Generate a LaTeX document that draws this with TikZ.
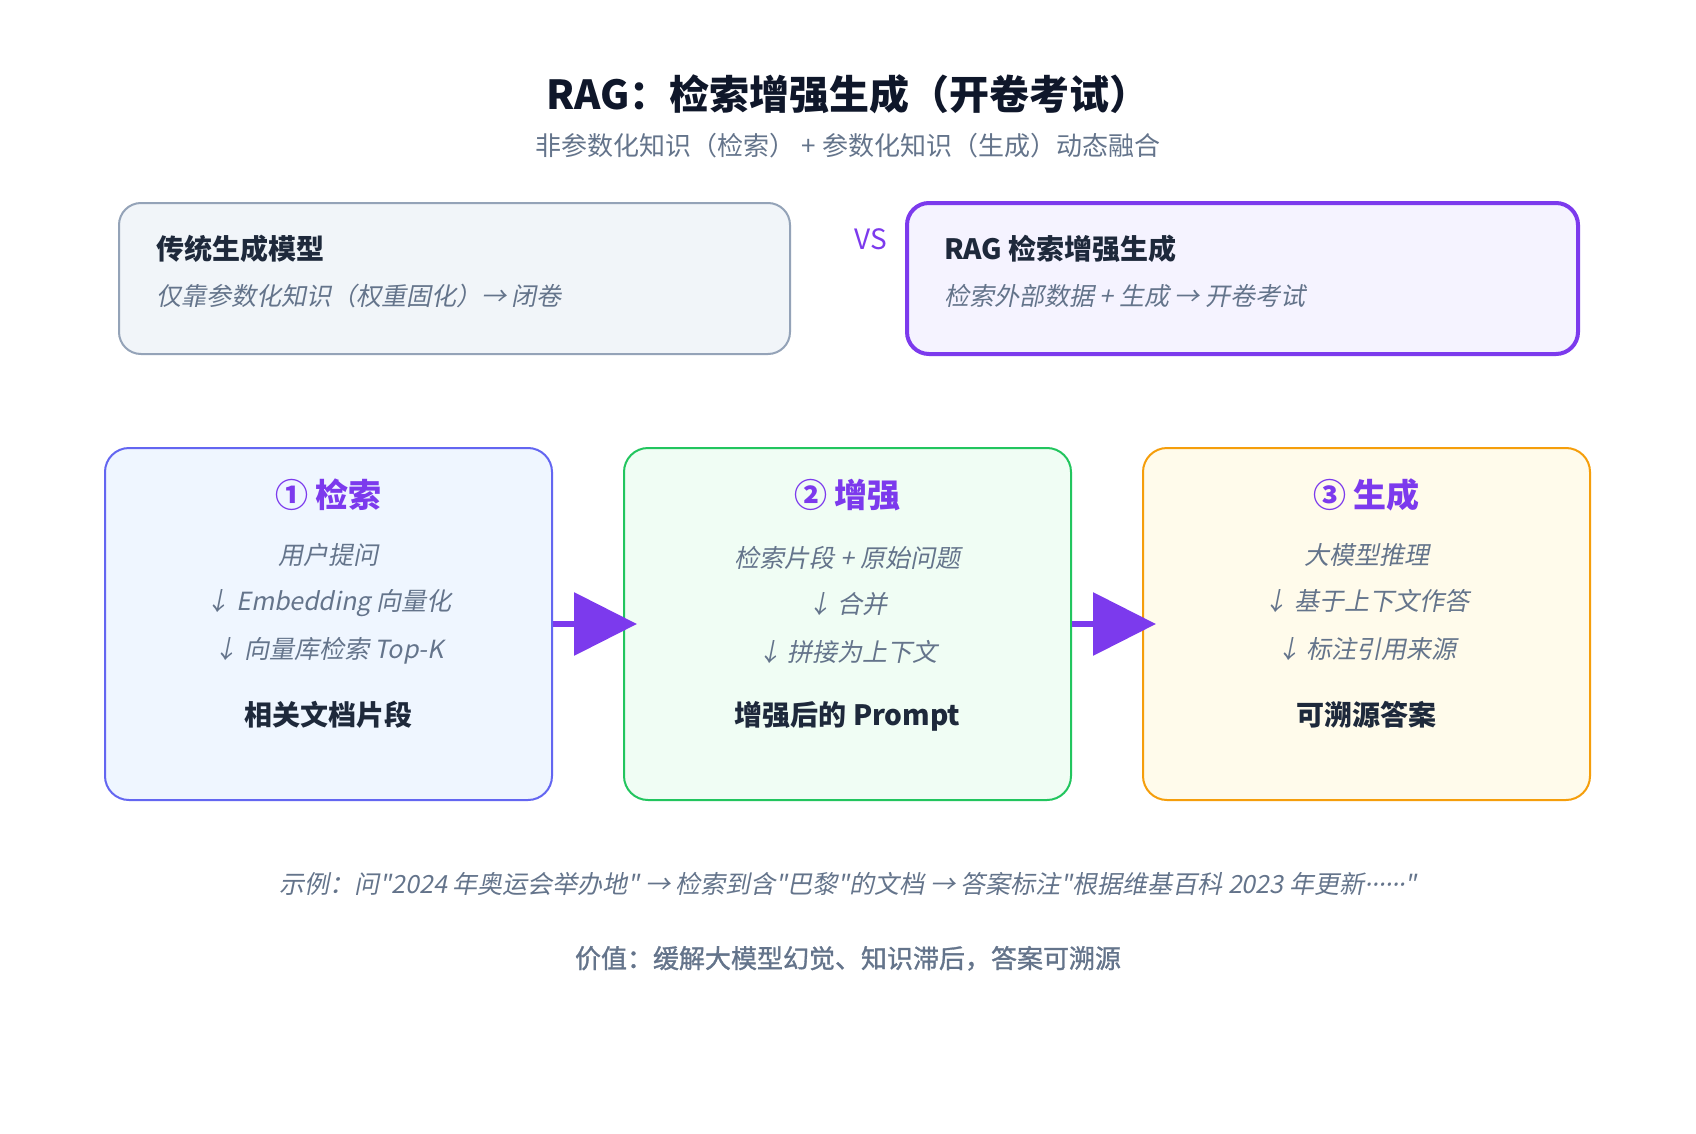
\documentclass[tikz,border=0pt]{standalone}
\usepackage{fontspec}
\setmainfont{Noto Sans CJK SC}[AutoFakeSlant=0.2]
\newfontfamily\plainfont{Noto Sans CJK SC}[AutoFakeSlant=0.2]
\newfontfamily\dotfont{Noto Sans}[AutoFakeSlant=0.2]
\newfontfamily\midfont{Noto Sans CJK SC}[FakeBold=1.2]
\usepackage{xcolor}
\usetikzlibrary{arrows.meta,positioning}
\definecolor{ink}{HTML}{0F172A}
\definecolor{dark}{HTML}{1E293B}
\definecolor{muted}{HTML}{64748B}
\definecolor{violet}{HTML}{7C3AED}
\definecolor{slateline}{HTML}{94A3B8}
\definecolor{slatefill}{HTML}{F1F5F9}
\definecolor{ragfill}{HTML}{F5F3FF}
\definecolor{retline}{HTML}{6366F1}
\definecolor{retfill}{HTML}{EFF6FF}
\definecolor{augline}{HTML}{22C55E}
\definecolor{augfill}{HTML}{F0FDF4}
\definecolor{genline}{HTML}{F59E0B}
\definecolor{genfill}{HTML}{FFFBEB}

\begin{document}
\begin{tikzpicture}[x=1pt, y=-1pt,
    panel/.style={draw, rounded corners=22pt, minimum width=671pt,
                  minimum height=151pt, line width=2pt},
    stagebox/.style={draw, rounded corners=24pt, minimum width=447pt,
                     minimum height=352pt, line width=2pt},
    headtxt/.style={inner sep=0pt, text=dark, font=\fontsize{28}{34}\selectfont\bfseries},
    notetxt/.style={inner sep=0pt, text=muted, font=\fontsize{25}{30}\selectfont\itshape},
    stagetitle/.style={inner sep=0pt, anchor=base, text=violet,
                       font=\fontsize{33}{40}\selectfont\bfseries},
    flow/.style={-{Triangle[length=63pt, width=62pt]}, line width=6.5pt, violet},
    node distance=70pt
  ]
    \useasboundingbox[fill=white] (0,0) rectangle (1696,1134);

    % title
    \node[inner sep=0pt, anchor=base, text=ink, font=\fontsize{40}{48}\selectfont\bfseries]
      (title) at (848,110) {RAG：检索增强生成（开卷考试）};
    \node[inner sep=0pt, anchor=base, text=muted, font=\fontsize{26}{32}\selectfont]
      (sub) at (848,156) {非参数化知识（检索） + 参数化知识（生成）动态融合};

    % comparison
    \node[panel, draw=slateline, fill=slatefill] (trad) at (454.5,278.5) {};
    \node[panel, right=114pt of trad, draw=violet, line width=4pt, fill=ragfill] (rag) {};
    \node[text=violet, inner sep=0pt, font=\fontsize{28}{34}\selectfont] (vs) at (871,239) {VS};
    \node[headtxt, anchor=base west] (tradh) at ([xshift=38pt, yshift=-57pt]trad.north west) {传统生成模型};
    \node[notetxt, anchor=base west] (tradn) at ([xshift=38pt, yshift=-103pt]trad.north west)
      {仅靠参数化知识（权重固化）→ 闭卷};
    \node[headtxt, anchor=base west] (ragh) at ([xshift=39pt, yshift=-58pt]rag.north west) {RAG 检索增强生成};
    \node[notetxt, anchor=base west] (ragn) at ([xshift=39pt, yshift=-104pt]rag.north west)
      {检索外部数据 + 生成 → 开卷考试};

    % pipeline
    \node[stagebox, draw=retline, fill=retfill] (ret) at (328.5,624) {};
    \node[stagebox, right=of ret, draw=augline, fill=augfill] (aug) {};
    \node[stagebox, right=of aug, draw=genline, fill=genfill] (gen) {};

    \node[stagetitle] (reth) at ([yshift=-60pt]ret.north) {① 检索};
    \node[notetxt, anchor=base] (ret1) at ([yshift=-117pt]ret.north) {用户提问};
    \node[notetxt, anchor=base] (ret2) at ([yshift=-163pt]ret.north) {↓ Embedding 向量化};
    \node[notetxt, anchor=base] (ret3) at ([yshift=-211pt]ret.north) {↓ 向量库检索 Top-K};
    \node[headtxt, anchor=base] (retr) at ([yshift=-278pt]ret.north) {相关文档片段};

    \node[stagetitle] (augh) at ([yshift=-60pt]aug.north) {② 增强};
    \node[notetxt, anchor=base] (aug1) at ([yshift=-120pt]aug.north) {检索片段 + 原始问题};
    \node[notetxt, anchor=base] (aug2) at ([yshift=-166pt]aug.north) {↓ 合并};
    \node[notetxt, anchor=base] (aug3) at ([yshift=-214pt]aug.north) {↓ 拼接为上下文};
    \node[headtxt, anchor=base] (augr) at ([yshift=-278pt]aug.north) {增强后的 Prompt};

    \node[stagetitle] (genh) at ([yshift=-60pt]gen.north) {③ 生成};
    \node[notetxt, anchor=base] (gen1) at ([yshift=-117pt]gen.north) {大模型推理};
    \node[notetxt, anchor=base] (gen2) at ([yshift=-163pt]gen.north) {↓ 基于上下文作答};
    \node[notetxt, anchor=base] (gen3) at ([yshift=-211pt]gen.north) {↓ 标注引用来源};
    \node[headtxt, anchor=base] (genr) at ([yshift=-278pt]gen.north) {可溯源答案};

    \draw[flow] (ret.east) -- ([xshift=14pt]aug.west);
    \draw[flow] (aug.east) -- ([xshift=14pt]gen.west);

    % footer
    \node[inner sep=0pt, anchor=base, text=muted, font=\fontsize{25}{30}\plainfont\itshape]
      (example) at (848,893)
      {示例：问"2024 年奥运会举办地" → 检索到含"巴黎"的文档 → 答案标注"根据维基百科 2023 年更新{\dotfont\itshape ······}"};
    \node[inner sep=0pt, anchor=base, text=muted, font=\fontsize{26}{32}\midfont]
      (value) at (848,968) {价值：缓解大模型幻觉、知识滞后，答案可溯源};
  \end{tikzpicture}
\end{document}
